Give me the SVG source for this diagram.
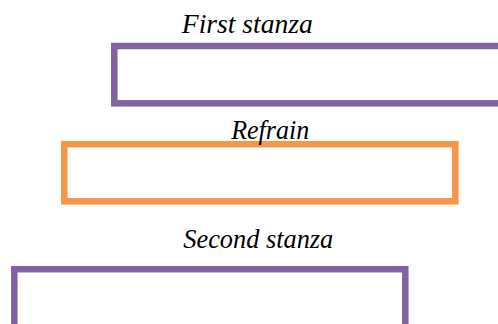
<svg xmlns="http://www.w3.org/2000/svg" width="498" height="324" viewBox="0 0 498 324">
<style>
.lbl{font-family:"Liberation Serif","DejaVu Serif",serif;font-style:italic;font-size:27px;fill:#000;text-anchor:middle}
.box{fill:#fff;stroke-width:6.5}
.purple{stroke:#8064A2}
.orange{stroke:#F79646}
</style>
<rect width="498" height="324" fill="#fff"/>
<g id="first-stanza">
<rect class="box purple" x="114.3" y="46" width="400" height="57.3"/>
<text class="lbl" x="247.3" y="32.5" textLength="131" lengthAdjust="spacingAndGlyphs">First stanza</text>
</g>
<g id="refrain">
<rect class="box orange" x="64.3" y="144.2" width="391" height="57.1"/>
<text class="lbl" x="270.2" y="139.3" textLength="78" lengthAdjust="spacingAndGlyphs">Refrain</text>
</g>
<g id="second-stanza">
<rect class="box purple" x="14.3" y="269.2" width="391" height="80"/>
<text class="lbl" x="258.3" y="248.3" textLength="150" lengthAdjust="spacingAndGlyphs">Second stanza</text>
</g>
<g id="connectors"></g>
</svg>
